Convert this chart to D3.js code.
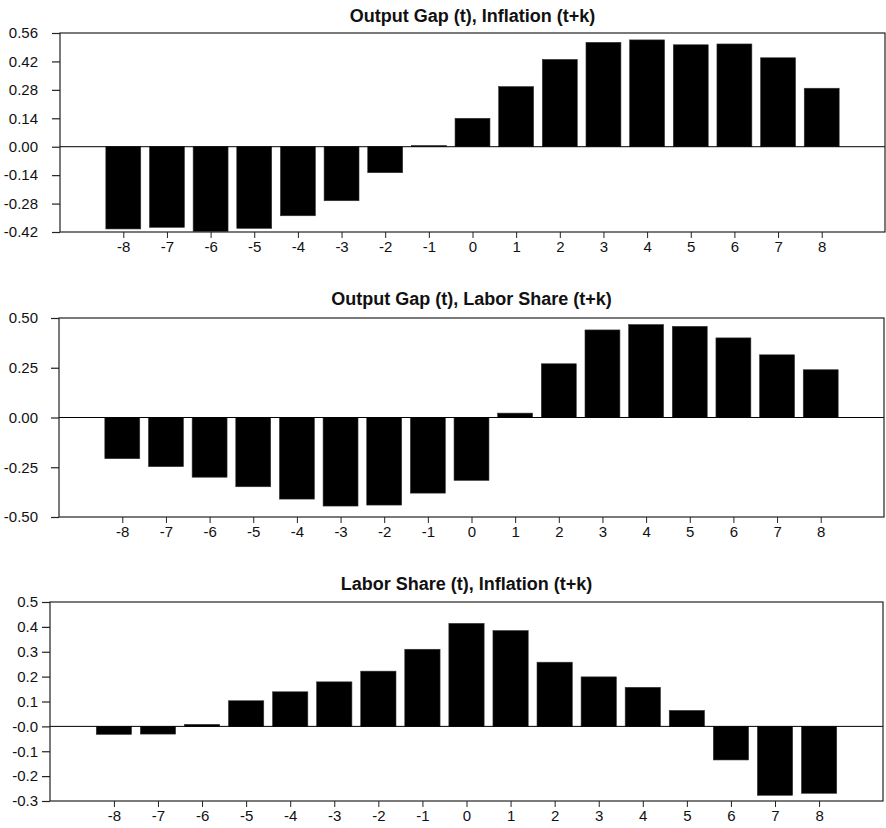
<!DOCTYPE html>
<html>
<head>
<meta charset="utf-8">
<script src="https://cdnjs.cloudflare.com/ajax/libs/d3/7.8.5/d3.min.js"></script>
<style>
  body { margin: 0; background: #fff; }
  text { font-family: "Liberation Sans", Arial, Helvetica, sans-serif; fill: #111; }
</style>
</head>
<body>
<script>
// lags k
var lags = [-8, -7, -6, -5, -4, -3, -2, -1, 0, 1, 2, 3, 4, 5, 6, 7, 8];

// correlations
var gapInflation = [-0.405, -0.397, -0.417, -0.402, -0.34, -0.266, -0.128, 0.006, 0.14,
                    0.296, 0.43, 0.514, 0.526, 0.502, 0.506, 0.438, 0.288];
var gapLabor = [-0.207, -0.247, -0.30, -0.348, -0.41, -0.445, -0.44, -0.38, -0.316,
                0.022, 0.27, 0.44, 0.467, 0.458, 0.40, 0.315, 0.24];
var laborInflation = [-0.032, -0.031, 0.008, 0.103, 0.139, 0.179, 0.222, 0.31, 0.414,
                      0.385, 0.258, 0.199, 0.157, 0.064, -0.135, -0.277, -0.269];

// y tick labels
var ticks1 = [0.56, 0.42, 0.28, 0.14, 0.00, -0.14, -0.28, -0.42];
var ticks2 = [0.50, 0.25, 0.00, -0.25, -0.50];
var ticks3 = [0.5, 0.4, 0.3, 0.2, 0.1, 0.0, -0.1, -0.2, -0.3];

var titles = ["Output Gap (t), Inflation (t+k)",
              "Output Gap (t), Labor Share (t+k)",
              "Labor Share (t), Inflation (t+k)"];

var width = 886, height = 828;

// plain hyphen instead of d3's unicode minus
function hyphen(f) {
  return function(d) { return f(d).replace("\u2212", "-"); };
}

var svg = d3.select("body").append("svg")
    .attr("width", width)
    .attr("height", height);

var panels = [
  { title: titles[0], values: gapInflation, ticks: ticks1, fmt: hyphen(d3.format(".2f")),
    left: 60, right: 885, top: 33, bottom: 232, titleY: 22 },
  { title: titles[1], values: gapLabor, ticks: ticks2, fmt: hyphen(d3.format(".2f")),
    left: 59, right: 884, top: 318, bottom: 517, titleY: 305 },
  { title: titles[2], values: laborInflation, ticks: ticks3,
    fmt: function(d) { return d === 0 ? "-0.0" : hyphen(d3.format(".1f"))(d); },
    left: 50, right: 883, top: 602, bottom: 801, titleY: 590 }
];

panels.forEach(function(p) {
  var x = d3.scaleLinear()
      .domain([-9.45, 9.45])
      .range([p.left, p.right]);

  var y = d3.scaleLinear()
      .domain([d3.min(p.ticks), d3.max(p.ticks)])
      .range([p.bottom, p.top]);

  var bw = (x(1) - x(0)) * 0.8;
  var g = svg.append("g");

  // bars
  g.selectAll("rect.bar")
    .data(p.values)
    .enter().append("rect")
      .attr("class", "bar")
      .attr("x", function(d, i) { return x(lags[i]) - bw / 2; })
      .attr("y", function(d) { return y(Math.max(0, d)); })
      .attr("width", bw)
      .attr("height", function(d) { return Math.abs(y(d) - y(0)); })
      .attr("fill", "#000")
      .attr("stroke", "#333")
      .attr("stroke-width", 0.6);

  // zero line
  g.append("line")
    .attr("x1", p.left).attr("x2", p.right)
    .attr("y1", y(0)).attr("y2", y(0))
    .attr("stroke", "#000")
    .attr("stroke-width", 1);

  // frame
  g.append("rect")
    .attr("x", p.left).attr("y", p.top)
    .attr("width", p.right - p.left)
    .attr("height", p.bottom - p.top)
    .attr("fill", "none")
    .attr("stroke", "#222")
    .attr("stroke-width", 1.2);

  // left axis
  var yAxis = d3.axisLeft(y)
      .tickValues(p.ticks)
      .tickFormat(p.fmt)
      .tickSize(8)
      .tickSizeOuter(0)
      .tickPadding(p.left - 38 - 8);

  g.append("g")
      .attr("transform", "translate(" + p.left + ",0)")
      .call(yAxis)
      .call(function(a) {
        a.select(".domain").remove();
        a.selectAll("line").attr("stroke", "#222").attr("stroke-width", 1.2);
        a.selectAll("text").style("font-size", "15px").attr("fill", "#111");
      });

  // bottom axis
  var xAxis = d3.axisBottom(x)
      .tickValues(lags)
      .tickFormat(hyphen(d3.format("d")))
      .tickSize(6)
      .tickSizeOuter(0)
      .tickPadding(3);

  g.append("g")
      .attr("transform", "translate(0," + p.bottom + ")")
      .call(xAxis)
      .call(function(a) {
        a.select(".domain").remove();
        a.selectAll("line").attr("stroke", "#222").attr("stroke-width", 1);
        a.selectAll("text").style("font-size", "15px").attr("fill", "#111");
      });

  // title
  svg.append("text")
    .attr("x", (p.left + p.right) / 2)
    .attr("y", p.titleY)
    .attr("text-anchor", "middle")
    .style("font-size", "18px")
    .style("font-weight", "bold")
    .text(p.title);
});
</script>
</body>
</html>
